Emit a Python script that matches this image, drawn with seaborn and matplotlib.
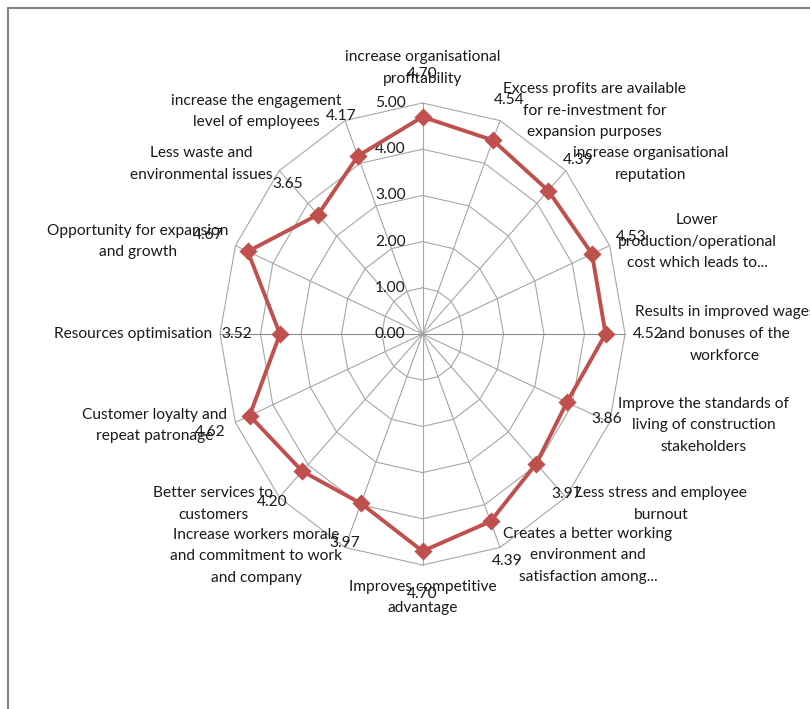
import numpy as np
import pandas as pd
import matplotlib
matplotlib.use("Agg")
import matplotlib.pyplot as plt
from matplotlib.lines import Line2D
import seaborn as sns

# ---------------- data ----------------
categories = [
    "increase organisational\nprofitability",
    "Excess profits are available\nfor re-investment for\nexpansion purposes",
    "increase organisational\nreputation",
    "Lower\nproduction/operational\ncost which leads to...",
    "Results in improved wages\nand bonuses of the\nworkforce",
    "Improve the standards of\nliving of construction\nstakeholders",
    "Less stress and employee\nburnout",
    "Creates a better working\nenvironment and\nsatisfaction among...",
    "Improves competitive\nadvantage",
    "Increase workers morale\nand commitment to work\nand company",
    "Better services to\ncustomers",
    "Customer loyalty and\nrepeat patronage",
    "Resources optimisation",
    "Opportunity for expansion\nand growth",
    "Less waste and\nenvironmental issues",
    "increase the engagement\nlevel of employees",
]
values = [4.70, 4.54, 4.39, 4.53, 4.52, 3.86, 3.97, 4.39,
          4.70, 3.97, 4.20, 4.62, 3.52, 4.67, 3.65, 4.17]
ticks = [0, 1, 2, 3, 4, 5]
tick_labels = ["0.00", "1.00", "2.00", "3.00", "4.00", "5.00"]

# ---------------- style ----------------
sns.set_theme(style="white")
plt.rcParams['font.family'] = ['Lato', 'DejaVu Sans']
FS = 11.2
RED = "#C0504D"
GRID = "#A6A6A6"
TXT = "#1a1a1a"

W, H = 810, 709
fig = plt.figure(figsize=(W / 100, H / 100), dpi=100)
ax = fig.add_axes([0, 0, 1, 1])
cx, cy = 422.5, 334.0      # pixel position of the centre
sx, sy = 40.5, 46.2        # pixels per unit (x, y)
ax.set_xlim(-cx / sx, (W - cx) / sx)
ax.set_ylim(-(H - cy) / sy, cy / sy)
ax.axis("off")

n = len(categories)
theta = np.deg2rad(90 - 360 / n * np.arange(n))
cs, sn = np.cos(theta), np.sin(theta)
rmax = ticks[-1]

# grid polygons
for t in ticks[1:]:
    gx = np.append(t * cs, t * cs[0])
    gy = np.append(t * sn, t * sn[0])
    ax.plot(gx, gy, color=GRID, lw=0.8, zorder=1)
# spokes
for i in range(n):
    col = "#8C8C8C" if i in (4, 12) else GRID
    ax.plot([0, rmax * cs[i]], [0, rmax * sn[i]], color=col, lw=0.8, zorder=1)

# tick labels
PX = 0.72  # points per pixel at 100 dpi
for t, lab in zip(ticks, tick_labels):
    ax.annotate(lab, (0, t), xytext=(-17 * PX, 0), textcoords="offset points",
                ha="right", va="center", fontsize=FS, color=TXT, zorder=2)

# series
df = pd.DataFrame({"x": np.array(values) * cs, "y": np.array(values) * sn})
df_closed = pd.concat([df, df.iloc[[0]]], ignore_index=True)
sns.lineplot(data=df_closed, x="x", y="y", sort=False, estimator=None,
             color=RED, lw=2.8, ax=ax, zorder=3)
sns.scatterplot(data=df, x="x", y="y", marker="D", s=85, color=RED,
                edgecolor=RED, linewidth=0, ax=ax, zorder=4)

# value labels
DL = 43 * PX
for i, v in enumerate(values):
    ax.annotate(f"{v:.2f}", (v * cs[i], v * sn[i]),
                xytext=(DL * cs[i], DL * sn[i]), textcoords="offset points",
                ha="center", va="center", fontsize=FS, color=TXT, zorder=5)

# category labels (offsets in pixels)
gap_x = [0, 3, 7, 8.4, 10, 8.7, 9.3, 3.3, 0, 2.7, 6, 8.7, 8.3, 7, 7, 3.3]
off_y = [35, 10, 7, 4, 0, -3, -7, -8, -32.5, -9, -7, -3, 0, 4, 7, 9]
for i, lab in enumerate(categories):
    if i in (0, 8):
        ha, dx = "center", 0
    elif i < 8:
        ha, dx = "left", gap_x[i]
    else:
        ha, dx = "right", -gap_x[i]
    ax.annotate(lab, (rmax * cs[i], rmax * sn[i]), xytext=(dx * PX, off_y[i] * PX),
                textcoords="offset points", ha=ha, va="center",
                multialignment="center", fontsize=FS, color=TXT,
                linespacing=1.7, zorder=5)

# chart border (left and top edges visible)
fig.add_artist(Line2D([8 / W, 8 / W], [0, 1 - 7.5 / H], color="#868686", lw=1.5))
fig.add_artist(Line2D([8 / W, 1], [1 - 7.5 / H, 1 - 7.5 / H], color="#868686", lw=1.5))

fig.savefig("out.png", dpi=100)
